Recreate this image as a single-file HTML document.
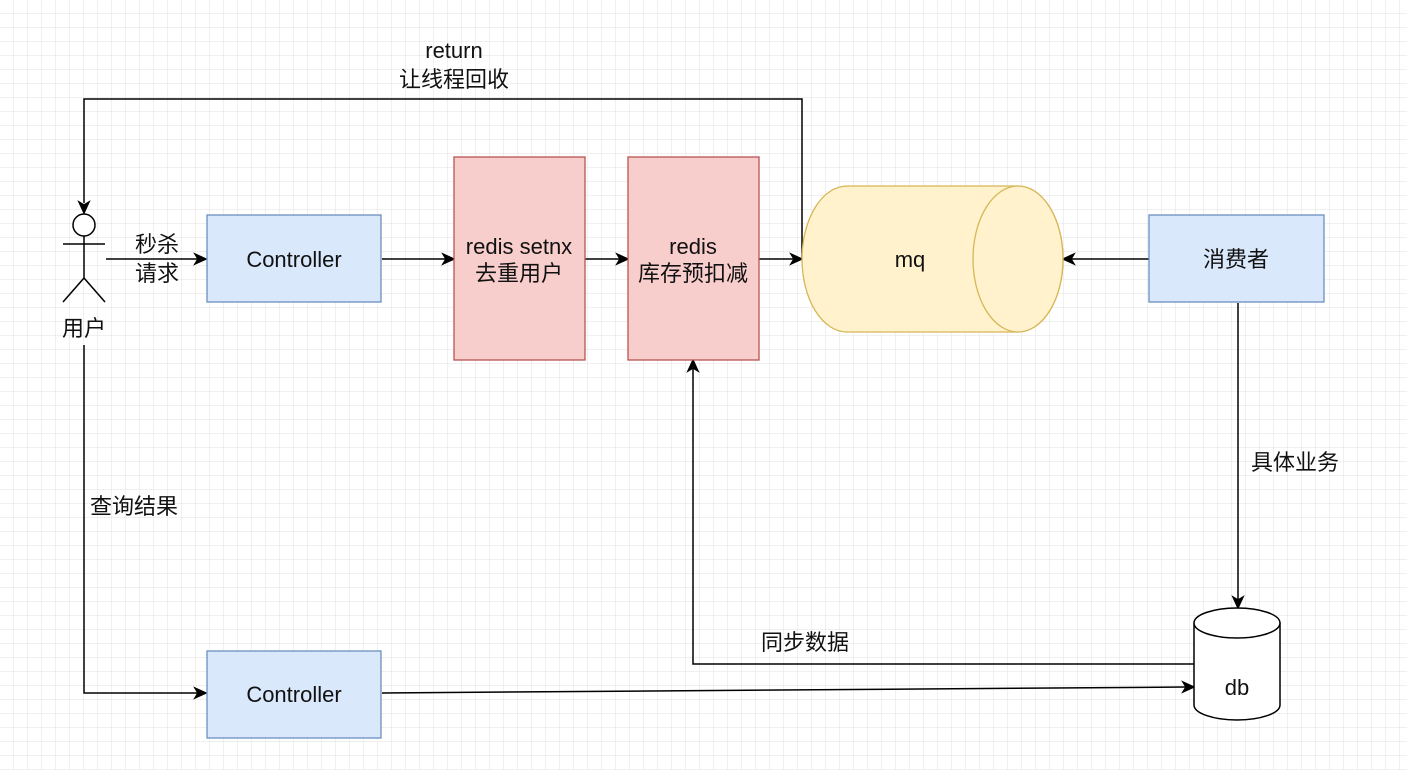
<!DOCTYPE html>
<html><head><meta charset="utf-8"><style>
html,body{margin:0;padding:0;background:#fff;}
svg{display:block;}
text{font-family:"Liberation Sans","Noto Sans CJK SC",sans-serif;font-size:22px;fill:#111;}
</style></head><body>
<svg width="1407" height="770" viewBox="0 0 1407 770" xmlns="http://www.w3.org/2000/svg">
<defs>
<pattern id="g" width="14" height="14" patternUnits="userSpaceOnUse"><path d="M14 0V14M0 14H14" stroke="#e2e2e2" stroke-width="1" fill="none"/></pattern>
</defs>
<rect width="1407" height="770" fill="url(#g)"/>
<g stroke="#000" stroke-width="1.5" fill="none">
<circle cx="84" cy="225" r="11" fill="#fff"/>
<path d="M63 244H105M84 236V278M84 278L63 302M84 278L105 302"/>
<path d="M802 259V99H84V203"/>
<path d="M84 213l-5-11 5 3 5-3z" fill="#000"/>
<path d="M106 259H198"/><path d="M206 259l-11-5 3 5-3 5z" fill="#000"/>
<path d="M382 259H446"/><path d="M454 259l-11-5 3 5-3 5z" fill="#000"/>
<path d="M585 259H620"/><path d="M628 259l-11-5 3 5-3 5z" fill="#000"/>
<path d="M759 259H794"/><path d="M802 259l-11-5 3 5-3 5z" fill="#000"/>
<path d="M1149 259H1071"/><path d="M1063 259l11-5-3 5 3 5z" fill="#000"/>
<path d="M1238 303V600"/><path d="M1238 608l-5-11 5 3 5-3z" fill="#000"/>
<path d="M1194 664H693V368"/><path d="M693 360l-5 11 5-3 5 3z" fill="#000"/>
<path d="M84 345V693H198"/><path d="M206 693l-11-5 3 5-3 5z" fill="#000"/>
<path d="M382 693L1186 687"/><path d="M1194 687l-11-5 3 5-3 5z" fill="#000"/>
</g>
<rect x="207" y="215" width="174" height="87" fill="#dae8fc" stroke="#6c8ebf" stroke-width="1.3"/>
<rect x="207" y="651" width="174" height="87" fill="#dae8fc" stroke="#6c8ebf" stroke-width="1.3"/>
<rect x="1149" y="215" width="175" height="87" fill="#dae8fc" stroke="#6c8ebf" stroke-width="1.3"/>
<rect x="454" y="157" width="131" height="203" fill="#f8cecc" stroke="#b85450" stroke-width="1.3"/>
<rect x="628" y="157" width="131" height="203" fill="#f8cecc" stroke="#b85450" stroke-width="1.3"/>
<path d="M847 186H1018A45 73 0 0 1 1018 332H847A45 73 0 0 1 847 186Z" fill="#fff2cc" stroke="#d6b656" stroke-width="1.3"/>
<ellipse cx="1018" cy="259" rx="45" ry="73" fill="#fff2cc" stroke="#d6b656" stroke-width="1.3"/>
<path d="M1194 623V705A43 15 0 0 0 1280 705V623" fill="#fff" stroke="#000" stroke-width="1.5"/>
<ellipse cx="1237" cy="623" rx="43" ry="15" fill="#fff" stroke="#000" stroke-width="1.5"/>
<text x="294" y="267" text-anchor="middle">Controller</text>
<text x="294" y="702" text-anchor="middle">Controller</text>
<text x="1236" y="267" text-anchor="middle">消费者</text>
<text x="519" y="254" text-anchor="middle">redis setnx</text>
<text x="519" y="281" text-anchor="middle">去重用户</text>
<text x="693" y="254" text-anchor="middle">redis</text>
<text x="693" y="281" text-anchor="middle">库存预扣减</text>
<text x="910" y="267" text-anchor="middle">mq</text>
<text x="1237" y="695" text-anchor="middle">db</text>
<text x="84" y="336" text-anchor="middle">用户</text>
<text x="157" y="252" text-anchor="middle">秒杀</text>
<text x="157" y="281" text-anchor="middle">请求</text>
<text x="454" y="58" text-anchor="middle">return</text>
<text x="454" y="87" text-anchor="middle">让线程回收</text>
<text x="1295" y="470" text-anchor="middle">具体业务</text>
<text x="134" y="514" text-anchor="middle">查询结果</text>
<text x="805" y="650" text-anchor="middle">同步数据</text>
</svg>
</body></html>
